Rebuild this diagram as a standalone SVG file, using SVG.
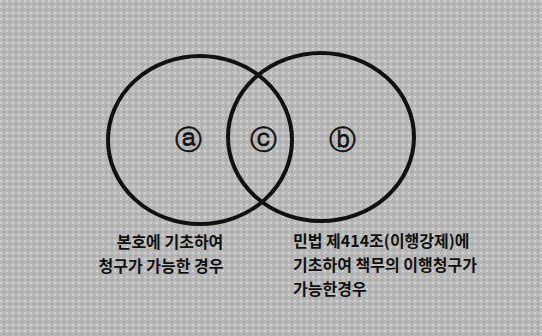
<svg xmlns="http://www.w3.org/2000/svg" width="542" height="336" viewBox="0 0 542 336">
<style>
.ring{fill:none;stroke:#111;stroke-width:4}
.mark{font-family:"DejaVu Sans","Liberation Sans",sans-serif;font-size:27px;fill:#111;text-anchor:middle;stroke:#111;stroke-width:0.6}
.lbl{font-family:"Noto Sans CJK KR","Noto Sans",sans-serif;font-size:16px;font-weight:bold;fill:#111}
</style>
<defs>
<pattern id="tex" width="6" height="6" patternUnits="userSpaceOnUse">
<rect width="6" height="6" fill="#b9b9b9"/>
<rect x="0" y="0" width="2" height="2" fill="#d2d2d2"/>
<rect x="3" y="3" width="2" height="2" fill="#a2a2a2"/>
</pattern>
</defs>
<rect width="542" height="336" fill="url(#tex)"/>
<g id="setA"><ellipse class="ring" cx="200" cy="140" rx="92" ry="84"/></g>
<g id="setB"><ellipse class="ring" cx="321" cy="137" rx="93" ry="84"/></g>
<g id="labelA"><text class="mark" x="188" y="149">ⓐ</text></g>
<g id="labelC"><text class="mark" x="263" y="149">ⓒ</text></g>
<g id="labelB"><text class="mark" x="342" y="149">ⓑ</text></g>
<g id="captionA">
<text class="lbl" text-anchor="middle" x="170" y="248">본호에 기초하여</text>
<text class="lbl" text-anchor="middle" x="161" y="272">청구가 가능한 경우</text>
</g>
<g id="captionB">
<text class="lbl" x="293" y="247">민법 제414조(이행강제)에</text>
<text class="lbl" x="293" y="271">기초하여 책무의 이행청구가</text>
<text class="lbl" x="293" y="295">가능한경우</text>
</g>
<g id="connectors"></g>
</svg>
